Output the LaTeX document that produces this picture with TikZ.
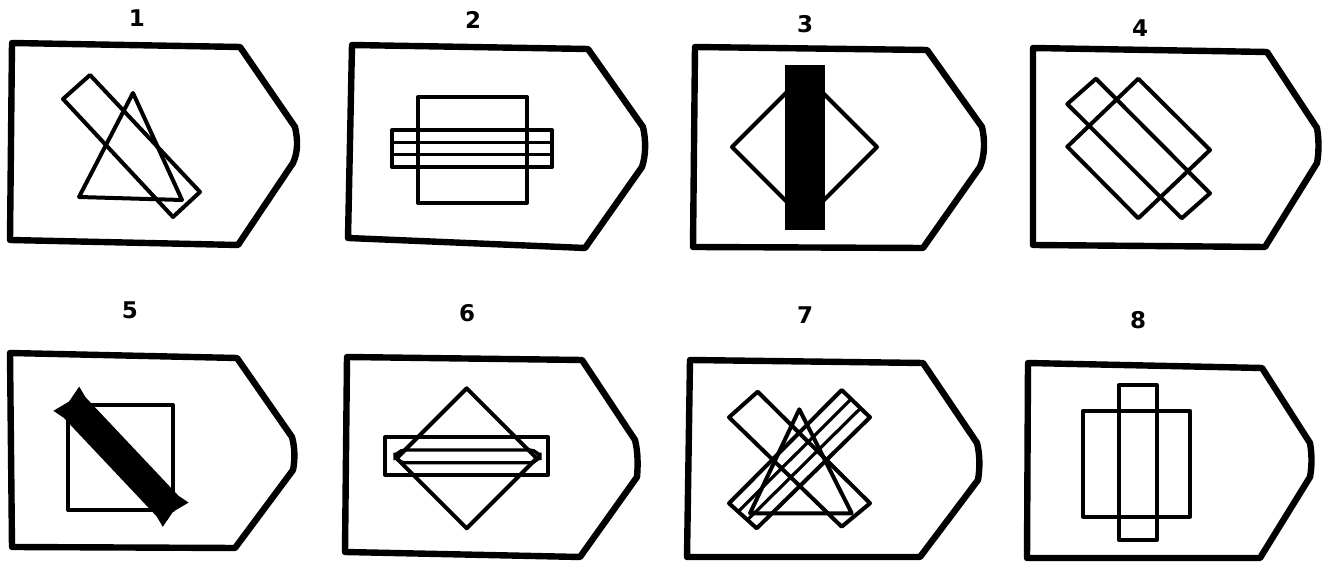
\documentclass[tikz,border=0pt]{standalone}
\usepackage{fontspec}
\newfontfamily\lblfont{DejaVu Sans}
\begin{document}
\begin{tikzpicture}[x=0.5pt,y=-0.5pt,
  outer/.style={line width=3.2pt,line join=round,line cap=round},
  inner/.style={line width=2pt,line join=round},
  thinl/.style={line width=1.6pt},
  lab/.style={font=\lblfont\bfseries\fontsize{11.5}{13}\selectfont,inner sep=0pt}]
\useasboundingbox (0,0) rectangle (1323,565);
% labels
\node[lab] (l1) at (137,18) {1};
\node[lab] (l2) at (473,20) {2};
\node[lab] (l3) at (805,24) {3};
\node[lab] (l4) at (1140,28) {4};
\node[lab] (l5) at (130,310) {5};
\node[lab] (l6) at (467,313) {6};
\node[lab] (l7) at (805,315) {7};
\node[lab] (l8) at (1138,320) {8};
% outer shields
\draw[outer] (12,43) -- (240,47) -- (295,127) .. controls (298,140) and (298,152) .. (293,163) -- (238,245) -- (10,240) -- cycle;
\draw[outer] (352,45) -- (588,49) -- (643,127) .. controls (646,140) and (646,155) .. (642,167) -- (585,248) -- (348,238) -- cycle;
\draw[outer] (695,47) -- (927,50) -- (982,127) .. controls (985,140) and (985,155) .. (980,167) -- (923,248) -- (693,247) -- cycle;
\draw[outer] (1033,48) -- (1267,52) -- (1317,128) .. controls (1319,140) and (1319,152) .. (1317,163) -- (1265,247) -- (1033,245) -- cycle;
\draw[outer] (10,353) -- (237,358) -- (292,437) .. controls (295,448) and (295,460) .. (293,470) -- (235,548) -- (12,547) -- cycle;
\draw[outer] (347,357) -- (582,360) -- (635,440) .. controls (638,452) and (638,465) .. (637,477) -- (580,557) -- (345,552) -- cycle;
\draw[outer] (690,360) -- (923,363) -- (977,443) .. controls (980,455) and (980,468) .. (978,480) -- (920,557) -- (687,557) -- cycle;
\draw[outer] (1028,363) -- (1262,368) -- (1310,443) .. controls (1312,455) and (1312,466) .. (1310,477) -- (1260,558) -- (1027,558) -- cycle;
% panel 1
\draw[inner] (63,99) -- (90,75) -- (200,192) -- (173,217) -- cycle;
\draw[inner] (133,93) -- (182,200) -- (79,197) -- cycle;
% panel 2
\draw[inner] (418,97) rectangle (527,203);
\draw[inner] (392,130) rectangle (552,167);
\draw[thinl] (392,142.3) -- (552,142.3) (392,154.7) -- (552,154.7);
% panel 3
\draw[inner] (732,147) -- (804.5,74.5) -- (877,147) -- (804.5,219.5) -- cycle;
\fill (785,65) rectangle (825,230);
% panel 4
\draw[inner] (1067.3,104) -- (1096,78.7) -- (1210,193.3) -- (1181.7,218.3) -- cycle;
\draw[inner] (1138.3,78.7) -- (1210,150) -- (1138.3,218.3) -- (1067.3,146.7) -- cycle;
% panel 5
\draw[inner] (68,405) rectangle (173,510);
\fill[line join=round] (79.2,386.6) -- (85.4,397.1) -- (178.4,495.7) -- (188.6,502.6) -- (173.0,511.8) -- (162.8,526.8) -- (156.6,516.3) -- (63.6,417.7) -- (53.4,410.8) -- (69.0,401.6) -- cycle;
% panel 6
\draw[inner] (466.7,388.3) -- (536.7,458.3) -- (466.7,528.3) -- (396.7,458.3) -- cycle;
\draw[inner] (385,437.3) rectangle (548.3,475);
\draw[thinl,rounded corners=5] (395,450) rectangle (540,462.7);
% panel 7
\draw[inner] (729,417.3) -- (757.7,391.7) -- (870,503.3) -- (841.7,526.7) -- cycle;
\draw[inner] (841.7,390) -- (870,417.3) -- (756.7,528.3) -- (729,503.3) -- cycle;
\draw[thinl] (851.1,399.1) -- (738.2,511.6) (860.6,408.2) -- (747.5,519.9);
\draw[inner] (799.3,409.3) -- (851.7,513.3) -- (750,513.3) -- cycle;
% panel 8
\draw[inner] (1083.3,410.7) rectangle (1190,516.7);
\draw[inner] (1119.3,385) rectangle (1156.7,540);
\end{tikzpicture}
\end{document}
